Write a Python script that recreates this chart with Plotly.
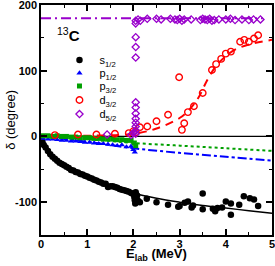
import plotly.graph_objects as go

# ---------------- data ----------------
s_E = [0.03, 0.06, 0.1, 0.15, 0.2, 0.25, 0.3, 0.35, 0.4, 0.45, 0.5, 0.55, 0.6, 0.65, 0.7,
       0.75, 0.8, 0.85, 0.9, 0.95, 1.0, 1.05, 1.1, 1.15, 1.2, 1.25, 1.3, 1.35, 1.4, 1.45,
       1.5, 1.55, 1.6, 1.65, 1.7, 1.75, 1.8, 1.85, 1.9, 1.95, 2.0, 2.02, 2.03, 2.04, 2.05,
       2.06, 2.08, 2.1,
       2.14, 2.29, 2.5, 2.75, 2.97, 3.0, 3.11, 3.18, 3.26, 3.29, 3.5, 3.5, 3.72, 3.77, 3.82,
       3.92, 4.0, 4.11, 4.11, 4.29, 4.39, 4.52, 4.61, 4.7]
s_d = [-8, -13, -17, -22, -27, -31, -34, -37, -40, -42, -44, -46, -48, -51, -52,
       -54, -55, -57, -58, -60, -61, -63, -64, -66, -67, -69, -70, -72, -72, -77,
       -76, -76, -77, -78, -80, -81, -82, -83, -84, -86, -88, -92, -97, -102, -85,
       -94, -90, -98,
       -100, -95, -100, -104, -107, -106, -101, -99, -108, -105, -87, -111, -110, -114, -109,
       -108, -99, -102, -119, -104, -91, -94, -96, -106]
s_fitE = [0, 0.05, 0.1, 0.2, 0.4, 0.7, 1.0, 1.5, 2.0, 2.5, 3.0, 3.5, 4.0, 4.5, 5.0]
s_fitd = [-2, -12, -18, -28, -40, -52, -61, -74, -86, -94, -100, -105, -109, -113, -117]

p1_E = [0.05, 0.15, 0.25, 0.35, 0.45, 0.55, 0.65, 0.75, 0.85, 0.95, 1.05, 1.15, 1.25, 1.35,
        1.45, 1.55, 1.65, 1.75, 1.85, 1.95, 2.0, 2.03]
p1_d = [-3, -4, -4, -5, -6, -6, -7, -7, -8, -9, -9, -10, -11, -11,
        -12, -13, -14, -13, -16, -15, -20, -24]
p1_fitE = [0, 1.0, 2.0, 3.0, 4.0, 5.0]
p1_fitd = [0, -8, -18, -25, -31, -37]

p3_E = [0.05, 0.15, 0.25, 0.35, 0.45, 0.55, 0.65, 0.75, 0.85, 0.95, 1.05, 1.15, 1.25, 1.35,
        1.45, 1.55, 1.65, 1.75, 1.85, 1.95, 2.02, 2.05]
p3_d = [1, 1, 0, 1, 0, 0, -1, -1, -2, -2, -2, -3, -3, -4,
        -4, -4, -5, -5, -6, -6, -10, -14]
p3_fitE = [0, 1.0, 2.0, 3.0, 4.0, 5.0]
p3_fitd = [0, -4, -10, -14, -18, -22]

d3_E = [0.3, 0.8, 1.2, 1.6, 1.9, 2.0, 2.05, 2.14, 2.3, 2.5, 2.75, 2.99, 3.05, 3.1, 3.18,
        3.31, 3.5, 3.7, 3.79, 3.9, 4.0, 4.11, 4.31, 4.4, 4.5, 4.61, 4.7]
d3_d = [2, 3, 3, 4, 5, 8, 6, 14, 15, 23, 33, 90, 10, 20, 37,
        46, 66, 101, 110, 118, 126, 129, 144, 147, 144, 149, 154]
d3_fitE = [0, 1.0, 2.0, 2.5, 3.0, 3.2, 3.4, 3.6, 3.8, 4.0, 4.2, 4.5, 5.0]
d3_fitd = [0, 1, 4, 12, 28, 40, 58, 86, 108, 122, 132, 140, 147]

d5_E = [1.43, 1.95, 2.0,
        2.05, 2.05, 2.05, 2.05, 2.05, 2.05, 2.05, 2.05, 2.05, 2.05, 2.05, 2.05, 2.05,
        2.1, 2.15, 2.3, 2.5, 2.6, 2.8, 2.9, 2.95, 3.0, 3.05, 3.1, 3.25, 3.45, 3.5, 3.55,
        3.6, 3.65, 3.7, 3.75, 3.85, 4.0, 4.1, 4.2, 4.35, 4.5, 4.6, 4.75]
d5_d = [3, 2, 5,
        4, 9, 15, 21, 27, 35, 44, 52, 120, 136, 151, 172, 176,
        178, 176, 179, 179, 178, 179, 178, 177, 179, 176, 178, 178, 177, 179, 178,
        177, 179, 176, 177, 178, 178, 179, 177, 178, 177, 178, 178]
d5_fitE = [0, 4.8]
d5_fitd = [180, 180]

zero_E = [0, 5]
zero_d = [0, 0]

# ---------------- figure ----------------
BLUE = "#0000ff"
GREEN = "#00a000"
RED = "#ff0000"
PURP = "#9900cc"

fig = go.Figure()
fig.add_trace(go.Scatter(x=zero_E, y=zero_d, mode="lines", line=dict(color="black", width=1.2),
                         showlegend=False, hoverinfo="skip"))
fig.add_trace(go.Scatter(x=p3_fitE, y=p3_fitd, mode="lines", line=dict(color=GREEN, width=2, dash="dot", shape="spline"),
                         showlegend=False))
fig.add_trace(go.Scatter(x=p1_fitE, y=p1_fitd, mode="lines", line=dict(color=BLUE, width=2, dash="dashdot", shape="spline"),
                         showlegend=False))
fig.add_trace(go.Scatter(x=d3_fitE, y=d3_fitd, mode="lines", line=dict(color=RED, width=2, dash="8px,6px", shape="spline"),
                         showlegend=False))
fig.add_trace(go.Scatter(x=d5_fitE, y=d5_fitd, mode="lines", line=dict(color=PURP, width=2, dash="10px,4px,2px,4px"),
                         showlegend=False))
fig.add_trace(go.Scatter(x=s_fitE, y=s_fitd, mode="lines", line=dict(color="black", width=1.5, shape="spline"),
                         showlegend=False))

fig.add_trace(go.Scatter(x=s_E, y=s_d, mode="markers", name="s<sub>1/2</sub>", legend="legend",
                         marker=dict(symbol="circle", size=6.5, color="black")))
fig.add_trace(go.Scatter(x=p1_E, y=p1_d, mode="markers", name="p<sub>1/2</sub>", legend="legend2",
                         marker=dict(symbol="triangle-up", size=5.5, color=BLUE)))
fig.add_trace(go.Scatter(x=p3_E, y=p3_d, mode="markers", name="p<sub>3/2</sub>", legend="legend3",
                         marker=dict(symbol="square", size=5, color=GREEN)))
fig.add_trace(go.Scatter(x=d3_E, y=d3_d, mode="markers", name="d<sub>3/2</sub>", legend="legend4",
                         marker=dict(symbol="circle-open", size=6.5, color=RED, line=dict(width=1.4, color=RED))))
fig.add_trace(go.Scatter(x=d5_E, y=d5_d, mode="markers", name="d<sub>5/2</sub>", legend="legend5",
                         marker=dict(symbol="diamond-open", size=5.5, color=PURP, line=dict(width=1.3, color=PURP))))

axis_common = dict(showline=True, linecolor="black", linewidth=1.5, mirror="ticks",
                   ticks="inside", ticklen=6, tickwidth=1.5, tickcolor="black",
                   showgrid=False, zeroline=False, ticklabeloverflow="allow",
                   tickfont=dict(family="Liberation Sans", size=11, color="black"))

fig.update_xaxes(range=[0, 5], tickvals=[0, 1, 2, 3, 4, 5],
                 ticktext=["<b>0</b>", "<b>1</b>", "<b>2</b>", "<b>3</b>", "<b>4</b>", "<b>5</b>"],
                 minor=dict(dtick=0.5, ticks="inside", ticklen=3, tickcolor="black", tickwidth=1.2),
                 ticklabelstandoff=-2,
                 **axis_common)
fig.update_yaxes(range=[-150, 200], tickvals=[-100, 0, 100, 200],
                 ticktext=["<b>-100</b>", "<b>0</b>", "<b>100</b>", "<b>200</b>"],
                 minor=dict(dtick=50, ticks="inside", ticklen=3, tickcolor="black", tickwidth=1.2),
                 **axis_common)

leg_common = dict(x=0.08, xanchor="left", yanchor="middle", bgcolor="rgba(0,0,0,0)",
                  font=dict(size=11, family="Liberation Sans"), itemwidth=30, maxheight=60)
leg_y = [0.761, 0.704, 0.648, 0.587, 0.526]

fig.update_layout(
    width=275, height=266,
    margin=dict(l=41, r=3, t=5, b=31, autoexpand=False),
    plot_bgcolor="white", paper_bgcolor="white",
    font=dict(family="Liberation Sans", color="black"),
    legend=dict(y=leg_y[0], **leg_common),
    legend2=dict(y=leg_y[1], **leg_common),
    legend3=dict(y=leg_y[2], **leg_common),
    legend4=dict(y=leg_y[3], **leg_common),
    legend5=dict(y=leg_y[4], **leg_common),
    annotations=[
        dict(text="<sup>13</sup><b>C</b>", x=0.06, y=0.87, xref="paper", yref="paper",
             xanchor="left", yanchor="middle", showarrow=False,
             font=dict(size=15, family="Liberation Sans")),
        dict(text="<b>E<sub>lab</sub> (MeV)</b>", x=0.5, y=-0.132, xref="paper", yref="paper",
             xanchor="center", yanchor="bottom", showarrow=False,
             font=dict(size=13, family="Liberation Sans")),
        dict(text="δ (degree)", x=-0.135, y=0.5, xref="paper", yref="paper", textangle=-90,
             xanchor="center", yanchor="middle", showarrow=False,
             font=dict(size=13, family="Liberation Sans")),
    ],
)

fig.write_html("out.html", config={"displayModeBar": False},
               post_script="document.body.style.margin='0px';document.body.style.padding='0px';")
